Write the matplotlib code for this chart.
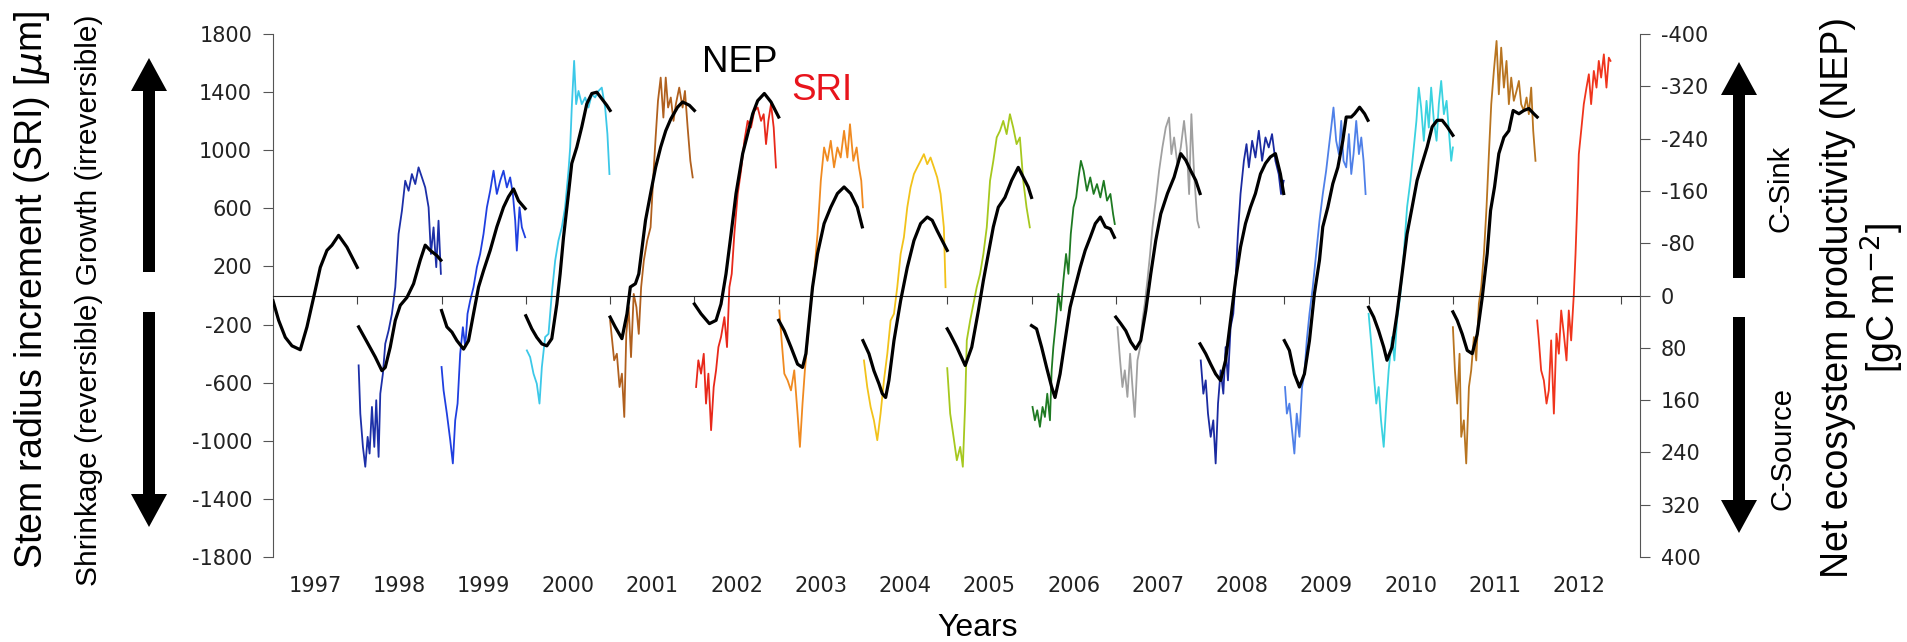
import numpy as np
import matplotlib
matplotlib.use('Agg')
import matplotlib.pyplot as plt
import matplotlib.transforms as mtransforms
from matplotlib.patches import FancyArrow

plt.rcParams['font.family'] = ['DejaVu Sans']
plt.rcParams['axes.unicode_minus'] = False

# ---- NEP (black), cumulative within each year, gC m-2 (t = fraction of year)
nep_years = [1997, 1998, 1999, 2000, 2001, 2002, 2003, 2004, 2005, 2006, 2007, 2008, 2009, 2010, 2011]

nep97_t = [0, 0.067, 0.146, 0.225, 0.324, 0.403, 0.482, 0.561, 0.64, 0.7, 0.778, 0.877, 1.0]
nep97 = [8, 38, 64, 77, 83, 48, 3, -43, -69, -77, -92, -74, -43]
nep98_t = [0.016, 0.115, 0.213, 0.292, 0.332, 0.391, 0.451, 0.51, 0.589, 0.668, 0.747, 0.806, 0.866, 0.945, 0.992]
nep98 = [48, 71, 94, 115, 110, 79, 38, 15, 3, -18, -54, -77, -69, -61, -54]
nep99_t = [0, 0.063, 0.123, 0.182, 0.261, 0.32, 0.379, 0.439, 0.498, 0.577, 0.656, 0.735, 0.794, 0.854, 0.913, 0.992]
nep99 = [23, 48, 56, 69, 82, 69, 28, -13, -38, -69, -105, -135, -151, -163, -145, -133]
nep00_t = [0, 0.071, 0.13, 0.19, 0.249, 0.308, 0.368, 0.407, 0.447, 0.506, 0.545, 0.605, 0.664, 0.723, 0.783, 0.842, 0.901, 0.96, 1.0]
nep00 = [31, 51, 64, 74, 77, 66, 13, -33, -89, -156, -202, -227, -258, -293, -309, -311, -301, -291, -283]
nep01_t = [0, 0.06, 0.14, 0.2, 0.24, 0.3, 0.34, 0.38, 0.42, 0.48, 0.54, 0.6, 0.66, 0.72, 0.8, 0.86, 0.94, 1.0]
nep01 = [33, 48, 66, 28, -13, -18, -33, -74, -115, -156, -196, -227, -252, -270, -288, -296, -291, -283]
nep02_t = [0, 0.079, 0.178, 0.257, 0.316, 0.375, 0.435, 0.494, 0.573, 0.632, 0.692, 0.751, 0.83, 0.909, 1.0]
nep02 = [13, 28, 43, 38, 13, -33, -94, -156, -217, -247, -278, -298, -309, -296, -273]
nep03_t = [0, 0.067, 0.146, 0.224, 0.283, 0.323, 0.362, 0.402, 0.461, 0.539, 0.618, 0.697, 0.776, 0.854, 0.933, 0.992]
nep03 = [38, 54, 79, 105, 110, 89, 38, -13, -64, -110, -135, -156, -166, -156, -135, -105]
nep04_t = [0, 0.071, 0.13, 0.19, 0.229, 0.269, 0.308, 0.368, 0.447, 0.526, 0.605, 0.684, 0.763, 0.822, 0.881, 0.96, 1.0]
nep04 = [69, 89, 115, 135, 150, 156, 130, 69, 8, -43, -84, -110, -120, -115, -99, -79, -69]
nep05_t = [0, 0.035, 0.114, 0.213, 0.291, 0.37, 0.429, 0.488, 0.547, 0.606, 0.685, 0.764, 0.843, 0.902, 0.961, 1.0]
nep05 = [51, 59, 79, 107, 79, 23, -23, -64, -105, -135, -150, -176, -196, -181, -166, -150]
nep06_t = [0, 0.06, 0.12, 0.179, 0.239, 0.279, 0.339, 0.398, 0.458, 0.518, 0.578, 0.637, 0.697, 0.757, 0.817, 0.876, 0.936, 0.984]
nep06 = [46, 51, 79, 110, 140, 156, 120, 69, 18, -13, -43, -69, -89, -110, -120, -105, -102, -89]
nep07_t = [0, 0.059, 0.119, 0.178, 0.237, 0.296, 0.356, 0.415, 0.474, 0.534, 0.613, 0.692, 0.771, 0.83, 0.889, 0.949, 1.0]
nep07 = [33, 43, 54, 71, 82, 69, 23, -33, -84, -125, -156, -181, -217, -207, -191, -176, -156]
nep08_t = [0, 0.067, 0.126, 0.185, 0.244, 0.303, 0.362, 0.421, 0.48, 0.539, 0.598, 0.657, 0.717, 0.776, 0.835, 0.894, 0.953, 0.992]
nep08 = [74, 89, 105, 120, 130, 99, 38, -23, -74, -110, -135, -156, -186, -202, -212, -217, -186, -156]
nep09_t = [0, 0.06, 0.119, 0.179, 0.238, 0.298, 0.357, 0.417, 0.456, 0.516, 0.575, 0.635, 0.694, 0.734, 0.794, 0.833, 0.893, 0.952, 0.992]
nep09 = [69, 84, 120, 140, 120, 69, -3, -54, -105, -135, -171, -196, -237, -273, -273, -278, -288, -278, -268]
nep10_t = [0, 0.06, 0.119, 0.179, 0.218, 0.278, 0.337, 0.397, 0.456, 0.516, 0.575, 0.635, 0.694, 0.754, 0.813, 0.873, 0.933, 1.0]
nep10 = [18, 33, 54, 79, 99, 79, 28, -33, -94, -135, -176, -202, -227, -258, -268, -268, -258, -245]
nep11_t = [0, 0.051, 0.111, 0.17, 0.229, 0.289, 0.348, 0.407, 0.447, 0.494, 0.545, 0.605, 0.664, 0.715, 0.783, 0.842, 0.901, 0.96, 1.0]
nep11 = [25, 38, 59, 84, 89, 59, 3, -64, -130, -166, -217, -242, -252, -283, -278, -283, -286, -278, -273]

# ---- SRI (coloured), um
sri_years = [1998, 1999, 2000, 2001, 2002, 2003, 2004, 2005, 2006, 2007, 2008, 2009, 2010, 2011, 2012]
sri_colors = ['#1c2fa8', '#1f3fe0', '#3cc8e8', '#b0601e', '#e8281a', '#f08a20', '#f2c21a', '#a6c81e',
              '#1e7a22', '#a0a0a0', '#1a2aa0', '#4f80e8', '#3ad2e0', '#b87420', '#f0341c']

sri98_t = [0.016, 0.036, 0.067, 0.095, 0.123, 0.146, 0.174, 0.202, 0.225, 0.253, 0.273, 0.304, 0.332, 0.372, 0.411, 0.451,
           0.49, 0.53, 0.569, 0.609, 0.648, 0.688, 0.727, 0.767, 0.806, 0.846, 0.874, 0.905, 0.937, 0.964, 0.992]
sri98 = [-481, -813, -1042, -1179, -973, -1088, -767, -1042, -721, -1111, -676, -538, -332, -240, -126, 57,
         424, 584, 790, 721, 836, 767, 882, 813, 744, 607, 286, 469, 195, 515, 149]
sri99_t = [0, 0.024, 0.063, 0.103, 0.134, 0.162, 0.19, 0.221, 0.253, 0.281, 0.308, 0.34, 0.379, 0.419, 0.458,
           0.498, 0.538, 0.577, 0.617, 0.656, 0.696, 0.735, 0.775, 0.814, 0.846, 0.874, 0.893, 0.925, 0.953, 0.992]
sri99 = [-492, -653, -813, -996, -1156, -859, -744, -401, -218, -355, -126, -34, 57, 195, 286,
         424, 607, 721, 859, 699, 790, 859, 744, 813, 699, 515, 309, 607, 469, 401]
sri00_t = [0.012, 0.051, 0.091, 0.13, 0.162, 0.19, 0.229, 0.269, 0.308, 0.348, 0.387, 0.427, 0.466, 0.506, 0.526,
           0.545, 0.573, 0.597, 0.625, 0.664, 0.704, 0.743, 0.783, 0.822, 0.862, 0.901, 0.941, 0.968, 0.992]
sri00 = [-378, -424, -538, -607, -744, -493, -286, -264, 11, 240, 378, 469, 607, 859, 1019,
         1294, 1615, 1317, 1408, 1317, 1363, 1294, 1385, 1363, 1408, 1431, 1294, 1111, 836]
sri01_t = [0, 0.02, 0.048, 0.08, 0.112, 0.14, 0.168, 0.192, 0.22, 0.248, 0.28, 0.312, 0.34, 0.368, 0.4, 0.44, 0.48,
           0.512, 0.54, 0.568, 0.6, 0.632, 0.66, 0.688, 0.72, 0.752, 0.78, 0.82, 0.86, 0.888, 0.92, 0.952, 0.98]
sri01 = [-172, -286, -446, -401, -630, -538, -836, -264, -80, -424, 11, -80, -264, 57, 240, 378, 469,
         813, 1088, 1340, 1500, 1225, 1500, 1294, 1363, 1202, 1317, 1431, 1294, 1408, 1156, 927, 813]
sri02_t = [0.02, 0.047, 0.079, 0.111, 0.138, 0.166, 0.198, 0.229, 0.257, 0.285, 0.316, 0.356, 0.387, 0.415, 0.443,
           0.474, 0.514, 0.553, 0.593, 0.632, 0.672, 0.711, 0.751, 0.791, 0.822, 0.85, 0.878, 0.909, 0.941, 0.968]
sri02 = [-630, -446, -538, -401, -744, -538, -927, -630, -515, -355, -286, -149, -355, 57, 149,
         424, 699, 859, 1065, 1202, 1156, 1271, 1294, 1202, 1248, 1042, 1202, 1317, 1156, 881]
sri03_t = [0.008, 0.035, 0.067, 0.106, 0.146, 0.185, 0.224, 0.252, 0.283, 0.311, 0.343, 0.382, 0.421, 0.461, 0.5,
           0.539, 0.579, 0.618, 0.657, 0.697, 0.736, 0.776, 0.815, 0.846, 0.886, 0.925, 0.953, 0.98, 1.0]
sri03 = [-103, -309, -538, -584, -653, -515, -813, -1042, -744, -515, -309, -57, 149, 424, 790,
         1019, 927, 1065, 882, 1019, 950, 1134, 950, 1179, 927, 1019, 882, 790, 607]
sri04_t = [0.012, 0.051, 0.091, 0.13, 0.17, 0.209, 0.249, 0.289, 0.328, 0.368, 0.407, 0.447, 0.486,
           0.526, 0.565, 0.605, 0.644, 0.684, 0.723, 0.763, 0.802, 0.842, 0.881, 0.921, 0.96, 0.98]
sri04 = [-447, -630, -767, -859, -996, -813, -584, -401, -172, -126, 57, 286, 401,
         607, 744, 836, 882, 927, 973, 904, 950, 882, 813, 699, 469, 57]
sri05_t = [0.0, 0.035, 0.075, 0.114, 0.154, 0.185, 0.213, 0.232, 0.272, 0.311, 0.35, 0.39, 0.429, 0.469,
           0.508, 0.547, 0.587, 0.626, 0.665, 0.705, 0.744, 0.783, 0.823, 0.862, 0.902, 0.941, 0.98]
sri05 = [-500, -813, -973, -1134, -1042, -1179, -744, -309, -172, -57, 57, 149, 286, 469,
         790, 927, 1088, 1134, 1202, 1111, 1248, 1156, 1042, 1088, 790, 607, 469]
sri06_t = [0.012, 0.04, 0.068, 0.1, 0.131, 0.159, 0.187, 0.219, 0.239, 0.259, 0.291, 0.319, 0.347, 0.378, 0.41, 0.438,
           0.466, 0.498, 0.53, 0.558, 0.586, 0.618, 0.657, 0.697, 0.737, 0.777, 0.817, 0.857, 0.896, 0.936, 0.968, 0.988]
sri06 = [-767, -859, -790, -904, -767, -836, -676, -859, -515, -355, -172, 11, -103, 103, 286, 149,
         424, 607, 675, 813, 927, 859, 721, 813, 699, 767, 675, 790, 653, 699, 561, 492]
sri07_t = [0.02, 0.051, 0.079, 0.107, 0.138, 0.17, 0.198, 0.225, 0.257, 0.289, 0.316, 0.344, 0.375, 0.407, 0.435, 0.474,
           0.514, 0.553, 0.593, 0.632, 0.66, 0.692, 0.731, 0.771, 0.81, 0.842, 0.87, 0.897, 0.929, 0.968, 0.988]
sri07 = [-218, -447, -630, -515, -698, -401, -630, -836, -447, -355, -172, -57, 103, 286, 469, 652,
         859, 1019, 1156, 1225, 973, 1088, 904, 1019, 1202, 1019, 698, 1248, 836, 515, 469]
sri08_t = [0.008, 0.039, 0.067, 0.094, 0.126, 0.157, 0.185, 0.213, 0.244, 0.276, 0.303, 0.331, 0.362, 0.394, 0.421, 0.449,
           0.48, 0.52, 0.551, 0.579, 0.618, 0.657, 0.697, 0.736, 0.776, 0.815, 0.854, 0.894, 0.933, 0.961, 0.992]
sri08 = [-447, -676, -584, -813, -973, -859, -1156, -744, -515, -676, -355, -584, -218, -126, 103, 424,
         699, 927, 1042, 882, 1065, 950, 1134, 927, 1088, 1019, 1111, 927, 836, 698, 790]
sri09_t = [0.008, 0.03, 0.06, 0.091, 0.119, 0.147, 0.179, 0.21, 0.238, 0.266, 0.298, 0.337, 0.377, 0.417, 0.456, 0.496,
           0.528, 0.556, 0.583, 0.615, 0.647, 0.675, 0.702, 0.734, 0.766, 0.794, 0.821, 0.853, 0.885, 0.913, 0.94, 0.964]
sri09 = [-630, -813, -744, -927, -1088, -813, -973, -630, -538, -309, -126, 57, 286, 515, 698, 859,
         1019, 1156, 1294, 1065, 973, 1202, 927, 882, 1111, 836, 973, 1202, 973, 1088, 927, 698]
sri10_t = [0.0, 0.028, 0.06, 0.091, 0.119, 0.147, 0.179, 0.21, 0.238, 0.278, 0.306, 0.337, 0.377, 0.417, 0.456, 0.496,
           0.536, 0.567, 0.595, 0.623, 0.655, 0.687, 0.714, 0.742, 0.774, 0.806, 0.833, 0.861, 0.893, 0.925, 0.952, 0.98, 1.0]
sri10 = [-126, -309, -538, -744, -630, -859, -1042, -744, -515, -286, -447, -172, 11, 286, 607, 790,
         1019, 1202, 1431, 1294, 1065, 1340, 1156, 1431, 1202, 1065, 1317, 1477, 1248, 1340, 1134, 927, 1019]
sri11_t = [0.0, 0.024, 0.051, 0.079, 0.099, 0.13, 0.158, 0.19, 0.217, 0.249, 0.277, 0.308, 0.336, 0.368, 0.399, 0.427,
           0.455, 0.486, 0.518, 0.545, 0.573, 0.605, 0.636, 0.664, 0.692, 0.723, 0.755, 0.783, 0.81, 0.842, 0.874,
           0.901, 0.929, 0.953, 0.98]
sri11 = [-218, -515, -744, -401, -973, -859, -1156, -630, -515, -286, -447, -57, 57, 286, 607, 973,
         1317, 1546, 1752, 1385, 1706, 1431, 1615, 1317, 1500, 1340, 1408, 1477, 1317, 1271, 1363,
         1248, 1431, 1134, 927]
sri12_t = [0.0, 0.02, 0.047, 0.079, 0.111, 0.138, 0.166, 0.198, 0.229, 0.257, 0.285, 0.316, 0.348, 0.375, 0.403, 0.435,
           0.455, 0.474, 0.494, 0.522, 0.553, 0.585, 0.613, 0.64, 0.672, 0.704, 0.731, 0.759, 0.791, 0.822, 0.85, 0.87]
sri12 = [-172, -309, -515, -584, -744, -653, -309, -813, -263, -401, -103, -263, -447, -103, -309, 11,
         286, 607, 973, 1134, 1317, 1431, 1523, 1317, 1546, 1431, 1615, 1500, 1660, 1431, 1637, 1615]

nep_t = [nep97_t, nep98_t, nep99_t, nep00_t, nep01_t, nep02_t, nep03_t, nep04_t,
         nep05_t, nep06_t, nep07_t, nep08_t, nep09_t, nep10_t, nep11_t]
nep_v = [nep97, nep98, nep99, nep00, nep01, nep02, nep03, nep04,
         nep05, nep06, nep07, nep08, nep09, nep10, nep11]
sri_t = [sri98_t, sri99_t, sri00_t, sri01_t, sri02_t, sri03_t, sri04_t, sri05_t,
         sri06_t, sri07_t, sri08_t, sri09_t, sri10_t, sri11_t, sri12_t]
sri_v = [sri98, sri99, sri00, sri01, sri02, sri03, sri04, sri05,
         sri06, sri07, sri08, sri09, sri10, sri11, sri12]

W, H = 1908, 642
fig = plt.figure(figsize=(W / 100, H / 100), dpi=100)
ax = fig.add_axes([273 / W, 1 - 557 / H, (1640 - 273) / W, (557 - 34) / H])

for yr, t, v, c in zip(sri_years, sri_t, sri_v, sri_colors):
    ax.plot(yr + np.array(t), v, color=c, lw=1.3)

ax.set_xlim(1997, 2013.22)
ax.set_ylim(-1800, 1800)
ax.set_yticks(np.arange(-1800, 1801, 400))
ax.set_xticks(range(1998, 2014))
ax.tick_params(axis='x', labelbottom=False, direction='out', length=6, color='#444')
ax.tick_params(axis='y', direction='out', length=7, color='#555', labelsize=15, labelcolor='#222', pad=8)
for s in ['top', 'right']:
    ax.spines[s].set_visible(False)
ax.spines['bottom'].set_position(('data', 0))
ax.spines['bottom'].set_color('#222')
ax.spines['left'].set_color('#555')
ax.patch.set_alpha(0)

# year labels below plot
trans = mtransforms.blended_transform_factory(ax.transData, ax.transAxes)
for yr in range(1997, 2013):
    ax.text(yr + 0.5, -0.056, str(yr), transform=trans, ha='center', va='center',
            fontsize=15, color='#222')

ax2 = ax.twinx()
for yr, t, v in zip(nep_years, nep_t, nep_v):
    ax2.plot(yr + np.array(t), v, color='black', lw=2.3, solid_joinstyle='round')
ax2.set_ylim(400, -400)
ax2.set_yticks(np.arange(-400, 401, 80))
ax2.tick_params(axis='y', direction='out', length=7, color='#555', labelsize=15, labelcolor='#222', pad=8)
for s in ['top', 'left', 'bottom']:
    ax2.spines[s].set_visible(False)
ax2.spines['right'].set_color('#555')

# overlay in pixel coordinates for labels and arrows
ov = fig.add_axes([0, 0, 1, 1])
ov.set_xlim(0, W)
ov.set_ylim(H, 0)
ov.axis('off')
ov.patch.set_alpha(0)

sans = ['Liberation Sans', 'DejaVu Sans']
ov.text(32, 290, 'Stem radius increment (SRI) [$\\mu$m]', rotation=90, ha='center', va='center',
        fontsize=27, family=sans)
ov.text(89, 300, 'Shrinkage (reversible) Growth (irreversible)', rotation=90, ha='center', va='center',
        fontsize=21.5, family=sans)
ov.text(1838, 298, 'Net ecosystem productivity (NEP)', rotation=90, ha='center', va='center',
        fontsize=27, family=sans)
ov.text(1882, 298, '[gC m$^{-2}$]', rotation=90, ha='center', va='center', fontsize=27, family=sans)
ov.text(1781, 188, 'C-Sink', rotation=90, ha='center', va='center', fontsize=21, family=sans)
ov.text(1783, 449, 'C-Source', rotation=90, ha='center', va='center', fontsize=21, family=sans)
ov.text(740, 62, 'NEP', ha='center', va='center', fontsize=26.5, family=sans, color='black')
ov.text(822, 90, 'SRI', ha='center', va='center', fontsize=26.5, family=sans, color='#e8141c')
ov.text(978, 628, 'Years', ha='center', va='center', fontsize=23, family=sans)

arrow_kw = dict(width=12, head_width=36, head_length=33, length_includes_head=True,
                color='black', lw=0)
ov.add_patch(FancyArrow(149, 272, 0, 58 - 272, **arrow_kw))
ov.add_patch(FancyArrow(149, 312, 0, 527 - 312, **arrow_kw))
ov.add_patch(FancyArrow(1739, 278, 0, 62 - 278, **arrow_kw))
ov.add_patch(FancyArrow(1739, 317, 0, 533 - 317, **arrow_kw))

fig.savefig('out.png', dpi=100)
